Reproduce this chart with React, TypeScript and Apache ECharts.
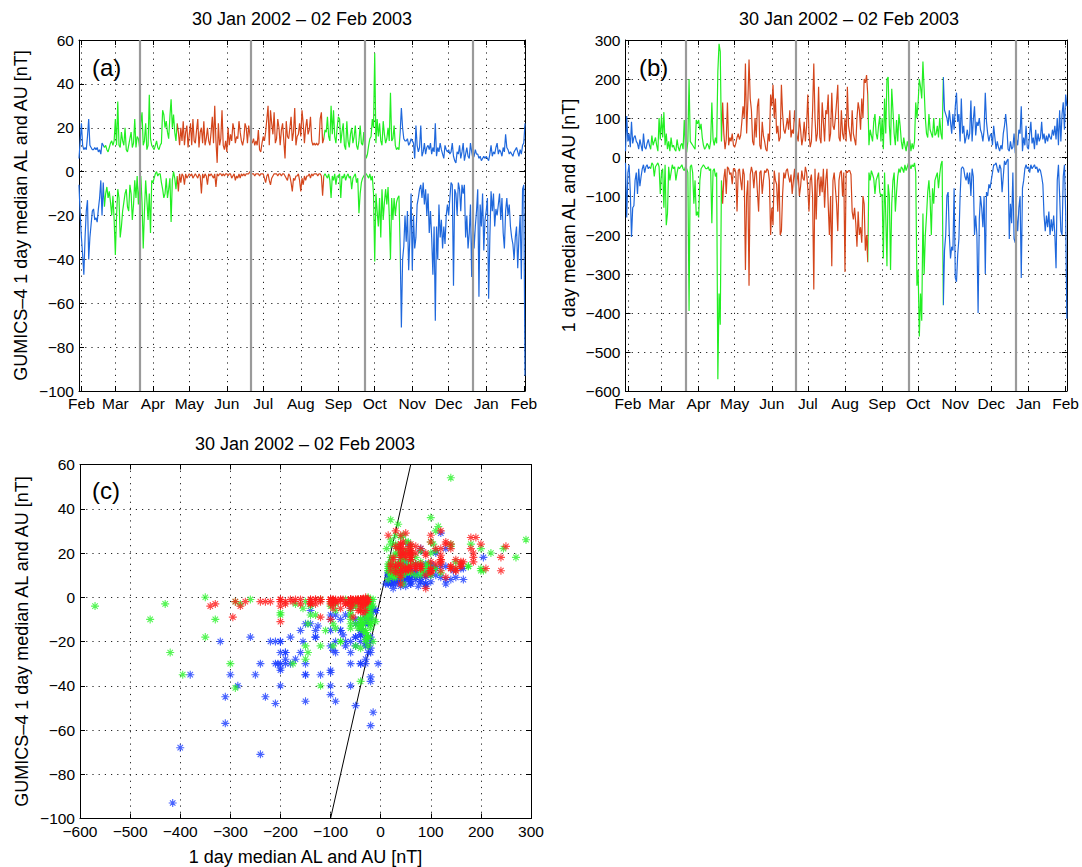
import React, { useEffect, useRef } from "react";
import * as echarts from "echarts";

// ---------- time frame ----------
const START_DATE = "2002-01-30";
const END_DATE = "2003-02-02";
const monthTickDates = [
  "2002-02-01", "2002-03-01", "2002-04-01", "2002-05-01", "2002-06-01", "2002-07-01", "2002-08-01",
  "2002-09-01", "2002-10-01", "2002-11-01", "2002-12-01", "2003-01-01", "2003-02-01",
];
const monthLabels = ["Feb", "Mar", "Apr", "May", "Jun", "Jul", "Aug", "Sep", "Oct", "Nov", "Dec", "Jan", "Feb"];
// equinox / solstice markers (grey vertical lines)
const markerDates = ["2002-03-21", "2002-06-21", "2002-09-23", "2002-12-21"];
// colour classes: day on which each class starts
const seasonStartDates = ["2002-01-30", "2002-02-20", "2002-04-21", "2002-08-21", "2002-10-22"];
const seasonClass = ["winter", "equinox", "summer", "equinox", "winter"];

// ---------- GUMICS-4 daily median AU (panel a, upper) ----------
const modelAU = [
  6, 14, // Jan 30-31
  22, 12, 10, 11, 10, 16, 24, 12, 11, 10, 10, 11, 10, 11, 9, 10, 8, 13, 12, 11, 12, 10, 9, 11, 13, 14, 12, 14, // Feb
  24, 12, 32, 12, 11, 18, 14, 12, 20, 10, 9, 12, 15, 18, 11, 13, 24, 11, 16, 15, 11, 22, 27, 12, 14, 22, 10, 12, 35, 15, 12, // Mar
  11, 10, 12, 14, 11, 10, 12, 13, 28, 26, 20, 23, 18, 15, 25, 33, 20, 26, 18, 14, 22, 18, 12, 20, 14, 23, 12, 18, 21, 11, // Apr
  17, 22, 12, 24, 14, 13, 19, 24, 11, 18, 20, 13, 23, 12, 15, 20, 14, 12, 18, 25, 13, 30, 14, 4, 22, 12, 15, 28, 12, 10, 14, // May
  9, 20, 12, 17, 14, 22, 19, 13, 16, 15, 23, 18, 14, 12, 15, 22, 20, 13, 21, 17, 14, 13, 15, 12, 14, 12, 19, 10, 9, 13, // Jun
  16, 14, 18, 24, 30, 12, 28, 22, 17, 27, 13, 15, 24, 20, 12, 19, 22, 14, 6, 23, 16, 15, 20, 25, 14, 18, 29, 12, 16, 17, 22, // Jul
  16, 28, 22, 13, 20, 24, 17, 19, 25, 14, 12, 13, 12, 13, 12, 13, 24, 27, 13, 15, 19, 18, 25, 16, 14, 30, 17, 28, 16, 13, 20, // Aug
  25, 24, 13, 18, 22, 12, 10, 23, 14, 11, 17, 20, 13, 16, 21, 12, 10, 14, 21, 13, 12, 18, 9, 6, 8, 12, 15, 16, 24, 20, // Sep
  54, 13, 24, 16, 22, 14, 12, 23, 17, 13, 15, 20, 14, 36, 14, 15, 21, 12, 10, 11, 10, 18, 29, 20, 15, 14, 14, 15, 12, 13, 15, // Oct
  14, 13, 6, 21, 12, 9, 11, 21, 7, 9, 13, 8, 11, 12, 10, 13, 8, 11, 9, 22, 7, 11, 9, 13, 10, 8, 6, 12, 10, 9, // Nov
  10, 8, 9, 13, 7, 5, 4, 9, 8, 12, 6, 9, 13, 5, 8, 11, 7, 6, 13, 9, 6, 7, 10, 8, 8, 6, 7, 5, 6, 7, 6, // Dec
  7, 6, 5, 8, 12, 7, 9, 8, 11, 13, 8, 10, 9, 7, 11, 9, 17, 11, 10, 8, 9, 8, 7, 9, 10, 11, 9, 7, 10, 8, 12, // Jan
  13, 22, // Feb 1-2
];

// ---------- GUMICS-4 daily median AL (panel a, lower) ----------
const modelAL = [
  -6, -20,
  -30, -38, -47, -30, -18, -13, -40, -30, -24, -18, -17, -22, -21, -23, -17, -12, -4, -20, -5, -16, -10, -7, -12, -9, -14, -20, -11, -22,
  -38, -20, -8, -12, -30, -25, -18, -14, -10, -8, -16, -18, -6, -10, -22, -15, -4, -12, -2, -15, -6, -2, -14, -35, -18, -4, -13, -22, -10, -28, -4,
  -5, -3, -1, 0, -2, -1, -1, -5, -8, -12, -10, -3, -12, -8, -3, -23, -4, 0, -3, -8, -2, -9, -1, -5, -1, -2, -6, -1, -3, -2,
  -1, -2, -1, -3, -2, -1, -2, -3, -1, -2, -10, -1, -3, -1, -2, -6, -1, -2, -1, -2, -3, -1, -7, -1, -2, -1, -1, -2, -1, -2, -1,
  -1, -2, -1, -1, -3, -2, -1, -4, -2, -3, -1, -3, -1, -2, -1, -2, -1, -1, -1, 0, -1, -1, -1, -2, -1, -1, -1, -2, -1, -1,
  -1, -3, -5, -2, -1, -4, -6, -3, -2, -1, -1, -1, -2, -1, -1, -2, -1, -1, -2, -3, -4, -1, -2, -5, -9, -3, -4, -2, -2, -1, -4,
  -9, -3, -6, -2, -4, -2, -2, -1, -3, -1, -2, -1, -1, -1, -2, -1, -1, -2, -11, -2, -1, -2, -3, -1, -4, -12, -2, -4, -1, -6, -2,
  -2, -1, -12, -2, -3, -1, -4, -2, -1, -3, -2, -8, -3, -2, -1, -5, -3, -19, -10, -5, -3, -2, -1, -1, -2, -3, -1, -4, -2, -10,
  -41, -10, -18, -25, -12, -30, -8, -22, -14, -8, -15, -7, -20, -40, -12, -22, -12, -20, -14, -12, -11, -35, -71, -40, -34, -20, -32, -18, -45, -30, -10,
  -45, -20, -35, -30, -15, -12, -8, -6, -12, -5, -15, -8, -20, -10, -28, -18, -30, -47, -25, -68, -25, -40, -15, -30, -22, -35, -25, -33, -20, -15,
  -20, -12, -5, -6, -52, -8, -10, -20, -5, -8, -18, -6, -10, -6, -30, -20, -35, -28, -15, -48, -20, -35, -25, -18, -8, -57, -15, -25, -10, -36, -22,
  -18, -12, -58, -30, -9, -18, -10, -25, -17, -20, -15, -10, -22, -12, -28, -35, -18, -12, -20, -15, -25, -30, -33, -40, -30, -25, -44, -30, -20, -49, -8,
  -6, -93,
];

// ---------- observed daily median AU (panel b, upper) ----------
const obsAU = [
  15, 105,
  40, 60, 25, 90, 35, 50, 55, 40, 35, 20, 45, 30, 15, 60, 25, 20, 35, 45, 30, 20, 55, 30, 40, 50, 30, 15, 100, 45,
  105, 50, 115, 30, 60, 20, 40, 15, 50, 25, 30, 20, 15, 45, 25, 15, 30, 35, 20, 95, 20, 12, 40, 200, 40, 35, 30, 25, 20, 95, 85,
  95, 70, 85, 50, 30, 20, 25, 35, 30, 20, 40, 140, 45, 30, 50, 35, 220, 290, 270, 40, 140, 60, 20, 45, 140, 30, 50, 40, 60, 30,
  25, 35, 50, 60, 45, 55, 90, 130, 100, 240, 60, 140, 250, 150, 120, 40, 30, 100, 50, 130, 150, 30, 20, 90, 55, 40, 20, 15, 60, 40, 160,
  130, 185, 100, 150, 60, 80, 40, 50, 185, 110, 70, 60, 80, 100, 70, 120, 50, 70, 60, 120, 80, 55, 40, 100, 70, 30, 50, 90, 40, 80,
  160, 60, 25, 40, 120, 240, 100, 40, 60, 180, 50, 35, 140, 90, 40, 120, 110, 160, 40, 60, 165, 80, 70, 100, 140, 185, 50, 40, 120, 60, 45,
  100, 40, 180, 80, 60, 40, 120, 60, 45, 30, 100, 140, 120, 70, 150, 100, 200, 190, 210, 160, 30, 70, 55, 40, 90, 110, 60, 45, 80, 105, 40,
  100, 20, 150, 60, 200, 205, 80, 30, 175, 120, 60, 30, 95, 40, 110, 80, 40, 20, 50, 30, 15, 40, 25, 45, 15, 35, 20, 40, 140, 100,
  140, 200, 180, 150, 245, 175, 100, 60, 50, 110, 70, 60, 50, 100, 55, 60, 80, 50, 100, 60, 45, 205, 120, 110, 100, 80, 120, 90, 60, 110, 70,
  130, 165, 90, 110, 40, 150, 60, 80, 35, 50, 70, 45, 60, 145, 40, 95, 130, 55, 90, 80, 100, 70, 60, 40, 70, 165, 90, 60, 40, 55,
  60, 30, 80, 50, 20, 40, 25, 15, 30, 20, 60, 80, 110, 75, 20, 15, 40, 20, 25, 60, 10, 45, 30, 70, 60, 130, 15, 50, 30, 80, 25,
  20, 60, 90, 35, 50, 20, 70, 30, 60, 40, 50, 90, 45, 60, 35, 55, 40, 60, 50, 45, 70, 55, 80, 45, 100, 30, 120, 40, 110, 140, 70,
  160, 130,
];

// ---------- observed daily median AL (panel b, lower) ----------
const obsAL = [
  -15, -155,
  -40, -20, -90, -205, -130, -125, -60, -40, -95, -30, -75, -50, -30, -20, -40, -25, -20, -30, -25, -30, -15, -20, -50, -25, -20, -15, -25, -95,
  -40, -30, -130, -20, -175, -145, -25, -60, -40, -20, -30, -25, -60, -40, -25, -30, -25, -20, -30, -35, -25, -30, -40, -395, -25, -20, -40, -120, -60, -150, -140,
  -155, -60, -30, -25, -20, -25, -30, -30, -25, -35, -30, -170, -35, -30, -50, -40, -570, -350, -430, -60, -120, -55, -30, -95, -25, -30, -45, -40, -70, -30,
  -30, -40, -140, -35, -30, -60, -85, -30, -45, -290, -100, -60, -330, -45, -25, -40, -80, -40, -35, -90, -140, -40, -35, -95, -60, -35, -40, -30, -35, -60, -200,
  -130, -175, -35, -60, -70, -140, -40, -200, -190, -95, -40, -55, -35, -30, -50, -65, -45, -95, -60, -30, -90, -60, -40, -100, -75, -35, -55, -60, -25, -40,
  -80, -140, -60, -45, -100, -340, -30, -160, -60, -40, -100, -50, -90, -30, -130, -60, -30, -120, -200, -100, -280, -60, -40, -80, -120, -190, -60, -40, -35, -100, -40,
  -295, -35, -40, -35, -35, -45, -140, -160, -130, -170, -230, -140, -200, -180, -220, -100, -120, -240, -200, -270, -40, -60, -35, -45, -55, -95, -60, -50, -40, -90, -100,
  -95, -260, -40, -150, -280, -70, -100, -290, -120, -60, -40, -140, -90, -50, -30, -40, -25, -30, -40, -20, -35, -25, -15, -20, -30, -20, -25, -15, -40, -330,
  -290, -460, -350, -420, -145, -300, -200, -150, -90, -60, -110, -200, -80, -120, -60, -50, -40, -80, -45, -20, -10, -380, -240, -200, -100, -90, -200, -260, -230, -240, -80,
  -310, -320, -250, -210, -100, -30, -25, -30, -50, -60, -40, -70, -40, -100, -30, -50, -200, -150, -200, -400, -160, -100, -130, -180, -100, -300, -90, -100, -70, -80,
  -60, -40, -20, -20, -15, -30, -40, -20, -30, -90, -50, -10, -20, -10, -5, -210, -120, -170, -40, -210, -220, -150, -190, -130, -100, -310, -80, -60, -30, -20, -30,
  -25, -40, -20, -30, -25, -20, -30, -25, -40, -30, -35, -50, -70, -150, -190, -150, -180, -140, -200, -160, -190, -150, -200, -285, -60, -20, -100, -190, -200, -50, -20,
  -140, -415,
];

// reference line y = x in panel (c)
const identityRange = [-100, 60];

// ---------- styling ----------
const FONT = "'Liberation Sans', Arial, Helvetica, sans-serif";
const lineColors: Record<string, string> = { winter: "#1f68dc", equinox: "#22ee22", summer: "#d4461c" };
const scatterColors: Record<string, string> = { winter: "#1a3cff", equinox: "#2cf22c", summer: "#ff1a1a" };
const ASTERISK = "path://M5,0L5,10M0,5L10,5M1.6,1.6L8.4,8.4M8.4,1.6L1.6,8.4";

const DAY_MS = 86400000;
const dayOf = (s: string) => Math.round((Date.parse(s + "T00:00:00Z") - Date.parse(START_DATE + "T00:00:00Z")) / DAY_MS);

export default function App() {
  const ref = useRef<HTMLDivElement>(null);

  useEffect(() => {
    if (!ref.current) return;
    const chart = echarts.init(ref.current, undefined, { renderer: "svg" });

    const maxDay = dayOf(END_DATE);
    const monthTicks = monthTickDates.map(dayOf);
    const markers = markerDates.map(dayOf);
    const seasonStarts = seasonStartDates.map(dayOf);
    const seasonOf = (d: number) => {
      let k = 0;
      for (let i = 0; i < seasonStarts.length; i++) if (d >= seasonStarts[i]) k = i;
      return seasonClass[k];
    };

    const pieces = seasonStarts.map((s, i) => {
      const p: any = { color: lineColors[seasonClass[i]] };
      if (i > 0) p.gte = s - 0.5;
      if (i < seasonStarts.length - 1) p.lt = seasonStarts[i + 1] - 0.5;
      return p;
    });

    const minus = (v: number) => String(v).replace("-", "\u2212");
    const tickLabel = { fontSize: 15.5, color: "#000", fontFamily: FONT };
    const dotted = { show: true, lineStyle: { color: "#222", type: [1.2, 5] as any, width: 1 } };
    const axisLine = { show: true, onZero: false, lineStyle: { color: "#000", width: 1 } };

    const timeAxes = (grid: number) => [
      {
        type: "value", gridIndex: grid, min: 0, max: maxDay, position: "bottom",
        axisLine,
        axisTick: { show: true, inside: true, length: 5, customValues: monthTicks, lineStyle: { color: "#000" } },
        axisLabel: {
          ...tickLabel, margin: 4, customValues: monthTicks,
          formatter: (v: number) => monthLabels[monthTicks.indexOf(Math.round(v))] ?? "",
        },
        splitLine: dotted,
      },
      {
        type: "value", gridIndex: grid, min: 0, max: maxDay, position: "top",
        axisLine,
        axisTick: { show: true, inside: true, length: 5, customValues: monthTicks, lineStyle: { color: "#000" } },
        axisLabel: { show: false, customValues: monthTicks },
        splitLine: { show: false },
      },
    ];

    const valueAxes = (grid: number, min: number, max: number, interval: number, pos: string, main: boolean, name?: string, nameGap?: number) => ({
      type: "value", gridIndex: grid, min, max, interval, position: pos,
      axisLine,
      axisTick: { show: true, inside: true, length: 5, lineStyle: { color: "#000" } },
      axisLabel: main ? { ...tickLabel, margin: 5, formatter: minus } : { show: false },
      splitLine: main ? dotted : { show: false },
      name: name ?? "",
      nameLocation: "middle",
      nameGap: nameGap ?? 0,
      nameTextStyle: { fontSize: 18, color: "#000", fontFamily: FONT },
    });

    const xAxis = [
      ...timeAxes(0),
      ...timeAxes(1),
      valueAxes(2, -600, 300, 100, "bottom", true, "1 day median AL and AU [nT]", 29),
      valueAxes(2, -600, 300, 100, "top", false),
    ];
    const yAxis = [
      valueAxes(0, -100, 60, 20, "left", true, "GUMICS\u20134 1 day median AL and AU [nT]", 49),
      valueAxes(0, -100, 60, 20, "right", false),
      valueAxes(1, -600, 300, 100, "left", true, "1 day median AL and AU [nT]", 48),
      valueAxes(1, -600, 300, 100, "right", false),
      valueAxes(2, -100, 60, 20, "left", true, "GUMICS\u20134 1 day median AL and AU [nT]", 49),
      valueAxes(2, -100, 60, 20, "right", false),
    ];

    const markLine = {
      silent: true,
      symbol: ["none", "none"],
      label: { show: false },
      lineStyle: { color: "#9a9a9a", width: 2.2, type: "solid" },
      data: markers.map((m) => ({ xAxis: m })),
    };

    const lineSeries = (data: number[], axis: number, withMarkers: boolean) => ({
      type: "line",
      xAxisIndex: axis,
      yAxisIndex: axis,
      data: data.map((v, i) => [i, v]),
      showSymbol: false,
      symbol: "none",
      lineStyle: { width: 1.2 },
      z: 3,
      ...(withMarkers ? { markLine } : {}),
    });

    const scatterBy: Record<string, number[][]> = { winter: [], equinox: [], summer: [] };
    for (let i = 0; i < modelAU.length; i++) {
      const s = seasonOf(i);
      scatterBy[s].push([obsAU[i], modelAU[i]]);
      scatterBy[s].push([obsAL[i], modelAL[i]]);
    }
    const scatterSeries = ["winter", "equinox", "summer"].map((s) => ({
      type: "scatter",
      xAxisIndex: 4,
      yAxisIndex: 4,
      data: scatterBy[s],
      symbol: ASTERISK,
      symbolSize: 8,
      itemStyle: { color: scatterColors[s], borderColor: scatterColors[s], borderWidth: 1.1 },
      z: 3,
    }));

    const titleText = "30 Jan 2002 \u2013 02 Feb 2003";
    const titleStyle = { fontSize: 18, fontWeight: "normal", color: "#000", fontFamily: FONT };

    chart.setOption({
      animation: false,
      backgroundColor: "#fff",
      title: [
        { text: titleText, left: 302, top: 10, textAlign: "center", textStyle: titleStyle, padding: 0 },
        { text: titleText, left: 849, top: 10, textAlign: "center", textStyle: titleStyle, padding: 0 },
        { text: titleText, left: 305, top: 435, textAlign: "center", textStyle: titleStyle, padding: 0 },
      ],
      grid: [
        { left: 79, top: 40, width: 446, height: 351 },
        { left: 625.5, top: 40, width: 446.5, height: 351 },
        { left: 80, top: 464.5, width: 451, height: 354 },
      ],
      xAxis,
      yAxis,
      visualMap: [
        { type: "piecewise", show: false, dimension: 0, seriesIndex: [0, 1, 2, 3], pieces },
      ],
      graphic: [
        { type: "text", left: 92, top: 55, style: { text: "(a)", fontSize: 24, fill: "#000", fontFamily: FONT } },
        { type: "text", left: 639, top: 55, style: { text: "(b)", fontSize: 24, fill: "#000", fontFamily: FONT } },
        { type: "text", left: 92, top: 478, style: { text: "(c)", fontSize: 24, fill: "#000", fontFamily: FONT } },
      ],
      series: [
        lineSeries(modelAU, 0, true),
        lineSeries(modelAL, 0, false),
        lineSeries(obsAU, 2, true),
        lineSeries(obsAL, 2, false),
        {
          type: "line",
          xAxisIndex: 4,
          yAxisIndex: 4,
          data: identityRange.map((v) => [v, v]),
          showSymbol: false,
          symbol: "none",
          lineStyle: { color: "#000", width: 1 },
          z: 2,
        },
        ...scatterSeries,
      ],
    });

    return () => chart.dispose();
  }, []);

  return (
    <div
      ref={ref}
      style={{ position: "fixed", left: 0, top: 0, width: 1082, height: 867, background: "#fff" }}
    />
  );
}
